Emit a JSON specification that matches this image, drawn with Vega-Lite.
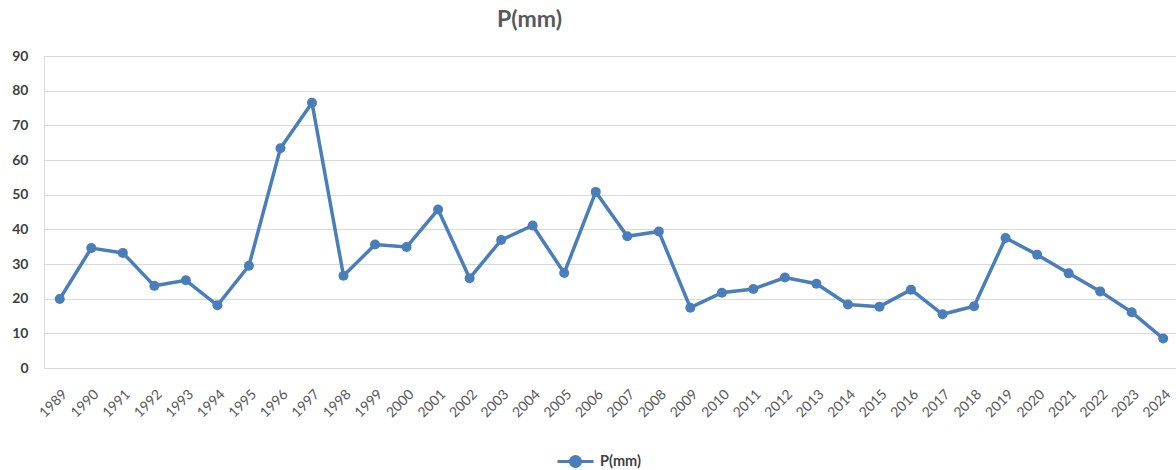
{
  "$schema": "https://vega.github.io/schema/vega-lite/v6.json",
  "width": 1135,
  "height": 312,
  "autosize": {"type": "none"},
  "padding": {"left": 44, "top": 56, "right": 0, "bottom": 102},
  "background": "white",
  "title": {
    "text": "P(mm)",
    "font": "Lato",
    "fontSize": 23,
    "fontWeight": "bold",
    "color": "#595959",
    "anchor": "middle",
    "dx": -82,
    "offset": 17
  },
  "data": {
    "values": [
      {"year": "1989", "p": 19.9},
      {"year": "1990", "p": 34.6},
      {"year": "1991", "p": 33.2},
      {"year": "1992", "p": 23.7},
      {"year": "1993", "p": 25.3},
      {"year": "1994", "p": 18.1},
      {"year": "1995", "p": 29.5},
      {"year": "1996", "p": 63.4},
      {"year": "1997", "p": 76.5},
      {"year": "1998", "p": 26.6},
      {"year": "1999", "p": 35.6},
      {"year": "2000", "p": 34.9},
      {"year": "2001", "p": 45.7},
      {"year": "2002", "p": 25.9},
      {"year": "2003", "p": 36.9},
      {"year": "2004", "p": 41.1},
      {"year": "2005", "p": 27.4},
      {"year": "2006", "p": 50.8},
      {"year": "2007", "p": 38.0},
      {"year": "2008", "p": 39.4},
      {"year": "2009", "p": 17.4},
      {"year": "2010", "p": 21.7},
      {"year": "2011", "p": 22.8},
      {"year": "2012", "p": 26.1},
      {"year": "2013", "p": 24.3},
      {"year": "2014", "p": 18.3},
      {"year": "2015", "p": 17.7},
      {"year": "2016", "p": 22.6},
      {"year": "2017", "p": 15.5},
      {"year": "2018", "p": 17.8},
      {"year": "2019", "p": 37.5},
      {"year": "2020", "p": 32.7},
      {"year": "2021", "p": 27.3},
      {"year": "2022", "p": 22.1},
      {"year": "2023", "p": 16.1},
      {"year": "2024", "p": 8.5}
    ]
  },
  "encoding": {
    "x": {
      "field": "year",
      "type": "ordinal",
      "scale": {"type": "point", "padding": 0.5},
      "axis": {
        "title": null,
        "labelAngle": -45,
        "labelFont": "Lato",
        "labelFontSize": 14,
        "labelColor": "#595959",
        "labelPadding": 19,
        "ticks": false,
        "grid": false,
        "domainColor": "#d9d9d9",
        "domainWidth": 1
      }
    },
    "y": {
      "field": "p",
      "type": "quantitative",
      "scale": {"domain": [0, 90], "nice": false, "zero": true},
      "axis": {
        "title": null,
        "values": [0, 10, 20, 30, 40, 50, 60, 70, 80, 90],
        "labelFont": "Lato",
        "labelFontSize": 14,
        "labelFontWeight": "bold",
        "labelColor": "#404040",
        "labelPadding": 16,
        "ticks": false,
        "domain": false,
        "grid": true,
        "gridColor": "#d9d9d9",
        "gridWidth": 1
      }
    },
    "color": {
      "datum": "P(mm)",
      "type": "nominal",
      "scale": {"range": ["#4A7EBB"]},
      "legend": {
        "title": null,
        "orient": "none",
        "legendX": 512,
        "legendY": 386,
        "symbolType": "M-1,0L1,0M-0.28,0A0.28,0.28 0 1,0 0.28,0A0.28,0.28 0 1,0 -0.28,0",
        "symbolSize": 1296,
        "symbolStrokeWidth": 3,
        "symbolFillColor": "#4A7EBB",
        "labelFont": "Lato",
        "labelFontSize": 14.5,
        "labelFontWeight": "bold",
        "labelColor": "#404040",
        "labelOffset": 5
      }
    }
  },
  "layer": [
    {"mark": {"type": "line", "strokeWidth": 3.5}},
    {"mark": {"type": "point", "filled": true, "size": 100, "opacity": 1}}
  ]
}
